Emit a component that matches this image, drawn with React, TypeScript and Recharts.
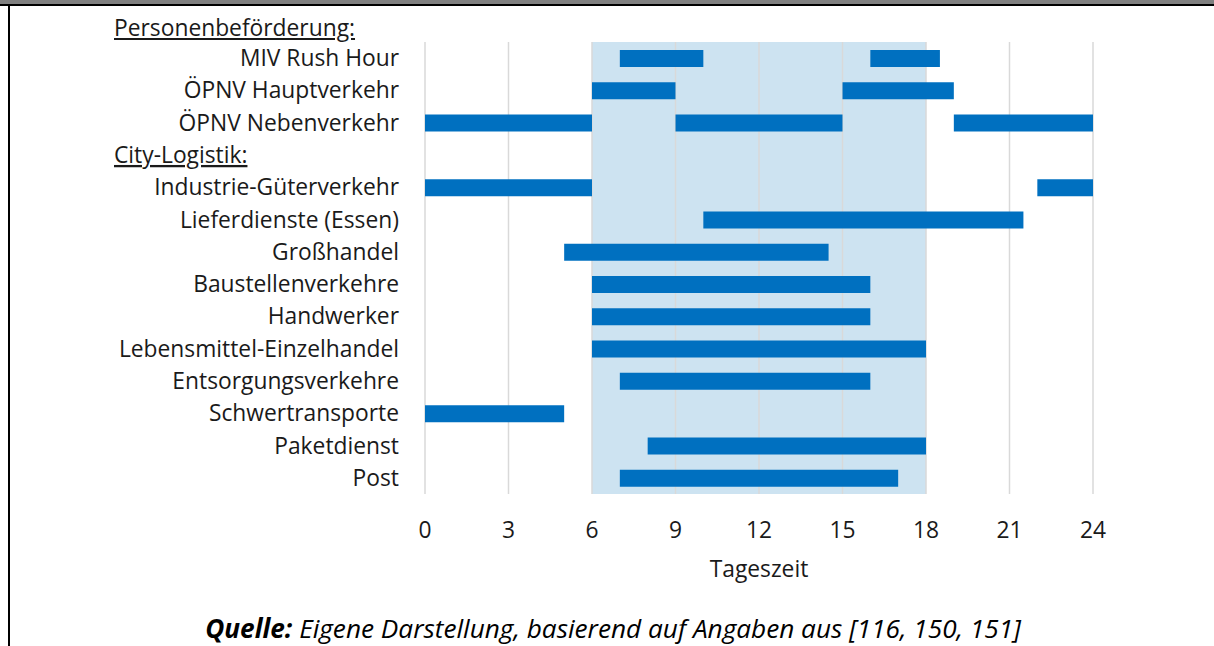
import React from 'react';
import { BarChart, Bar, XAxis, YAxis, CartesianGrid } from 'recharts';

const categories = [
  'MIV Rush Hour',
  'ÖPNV Hauptverkehr',
  'ÖPNV Nebenverkehr',
  'City-Logistik:',
  'Industrie-Güterverkehr',
  'Lieferdienste (Essen)',
  'Großhandel',
  'Baustellenverkehre',
  'Handwerker',
  'Lebensmittel-Einzelhandel',
  'Entsorgungsverkehre',
  'Schwertransporte',
  'Paketdienst',
  'Post',
];
const headerLabels = ['City-Logistik:'];
const topHeader = 'Personenbeförderung:';

const start1 = [7, 6, 0, null, 0, 10, 5, 6, 6, 6, 7, 0, 8, 7];
const end1 = [10, 9, 6, null, 6, 21.5, 14.5, 16, 16, 18, 16, 5, 18, 17];
const start2 = [16, 15, 9, null, 22, null, null, null, null, null, null, null, null, null];
const end2 = [18.5, 19, 15, null, 24, null, null, null, null, null, null, null, null, null];
const start3 = [null, null, 19, null, null, null, null, null, null, null, null, null, null, null];
const end3 = [null, null, 24, null, null, null, null, null, null, null, null, null, null, null];

const xTicks = [0, 3, 6, 9, 12, 15, 18, 21, 24];
const peakStart = 6;
const peakEnd = 18;
const xLabel = 'Tageszeit';

const BLUE = '#0070c0';
const SHADE = '#cde3f1';
const FONT = '"Open Sans", "Noto Sans", sans-serif';
const FS = 22.8;

// stripe fills between consecutive ticks: shaded inside peak window
const stripeFills = xTicks.map((t, i) =>
  i < xTicks.length - 1 && t >= peakStart && xTicks[i + 1] <= peakEnd ? SHADE : 'none'
);

const data = categories.map((name, i) => {
  let cur = 0;
  const seg = (s: number | null, e: number | null) => {
    if (s == null || e == null) return [0, 0];
    const gap = s - cur;
    const len = e - s;
    cur = e;
    return [gap, len];
  };
  const [g1, b1] = seg(start1[i], end1[i]);
  const [g2, b2] = seg(start2[i], end2[i]);
  const [g3, b3] = seg(start3[i], end3[i]);
  return { name, g1, b1, g2, b2, g3, b3 };
});

const YTick = (props: any) => {
  const { x, y, payload } = props;
  const label = payload.value as string;
  if (headerLabels.includes(label)) {
    return (
      <text x={114} y={y} dy="0.35em" textAnchor="start" fontSize={FS} fill="#1a1a1a"
        fontFamily={FONT} textDecoration="underline">
        {label}
      </text>
    );
  }
  return (
    <text x={x - 18} y={y} dy="0.35em" textAnchor="end" fontSize={FS} fill="#1a1a1a" fontFamily={FONT}>
      {label}
    </text>
  );
};

const XTick = (props: any) => {
  const { x, y, payload } = props;
  return (
    <text x={x} y={y + 36} textAnchor="middle" fontSize={FS} fill="#1a1a1a" fontFamily={FONT}>
      {payload.value}
    </text>
  );
};

export default function App() {
  return (
    <div style={{ position: 'absolute', left: 0, top: 0, width: 1214, height: 646, background: '#fff', overflow: 'hidden' }}>
      <div style={{ position: 'absolute', left: 0, top: 0, width: 1214, height: 4, background: '#808080' }} />
      <div style={{ position: 'absolute', left: 0, top: 4, width: 1214, height: 2, background: '#000' }} />
      <div style={{ position: 'absolute', left: 8, top: 4, width: 2, height: 642, background: '#000' }} />
      <div style={{ position: 'absolute', left: 0, top: 0 }}>
        <BarChart
          width={1214}
          height={646}
          data={data}
          layout="vertical"
          margin={{ top: 42, right: 121, bottom: 62, left: 10 }}
          barSize={17}
        >
          <CartesianGrid horizontal={false} vertical stroke="#d9d9d9" strokeWidth={1.5} verticalFill={stripeFills} />
          <XAxis
            type="number"
            domain={[0, 24]}
            ticks={xTicks}
            axisLine={false}
            tickLine={false}
            tick={<XTick />}
            height={90}
            interval={0}
            label={{ value: xLabel, position: 'insideTop', offset: 67, fontSize: FS, fill: '#1a1a1a', fontFamily: FONT }}
          />
          <YAxis
            type="category"
            dataKey="name"
            width={415}
            axisLine={false}
            tickLine={false}
            tick={<YTick />}
            interval={0}
          />
          <Bar dataKey="g1" stackId="a" fill="transparent" isAnimationActive={false} />
          <Bar dataKey="b1" stackId="a" fill={BLUE} isAnimationActive={false} />
          <Bar dataKey="g2" stackId="a" fill="transparent" isAnimationActive={false} />
          <Bar dataKey="b2" stackId="a" fill={BLUE} isAnimationActive={false} />
          <Bar dataKey="g3" stackId="a" fill="transparent" isAnimationActive={false} />
          <Bar dataKey="b3" stackId="a" fill={BLUE} isAnimationActive={false} />
        </BarChart>
      </div>
      <div style={{ position: 'absolute', left: 114, top: 14, fontFamily: FONT, fontSize: FS, color: '#1a1a1a', textDecoration: 'underline', lineHeight: '28px' }}>
        {topHeader}
      </div>
      <div style={{ position: 'absolute', left: 0, width: 1226, top: 612, textAlign: 'center', fontFamily: FONT, fontSize: 26.2, fontStyle: 'italic', color: '#000', lineHeight: '32px', whiteSpace: 'nowrap' }}>
        <b>Quelle:</b> Eigene Darstellung, basierend auf Angaben aus [116, 150, 151]
      </div>
    </div>
  );
}
